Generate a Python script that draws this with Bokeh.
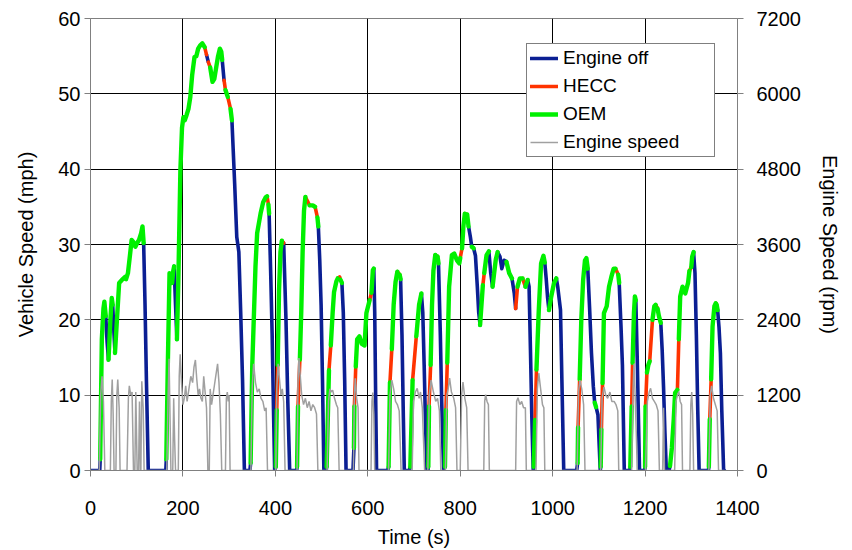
from bokeh.plotting import figure
from bokeh.models import Range1d, LinearAxis, FixedTicker, Legend, LegendItem
from bokeh.embed import file_html
from bokeh.resources import INLINE

# ---------------- data ----------------
# vehicle speed trace: time (s), speed (mph), and operating mode of the
# segment that starts at each point: O = engine off, H = HECC, E = OEM
time_s = [0, 20, 21, 24.5, 28, 30, 33, 36, 39, 43, 46, 48, 51, 53, 57, 62, 68, 75, 77, 81,
          86, 89, 93, 97, 101, 105, 109.6, 112.5, 115, 118, 121, 125, 163, 164, 167, 171, 174, 176.5, 179, 181,
          184, 187, 190, 194.5, 198, 201, 204, 208, 212, 216, 220, 225, 229, 233, 237, 242, 247, 251, 255, 259,
          264, 268, 272, 276, 280, 283, 285, 289, 292, 297, 303, 306, 312, 316.5, 321, 325, 329, 333, 345, 346.5,
          350, 357, 360.6, 368, 373.6, 379.4, 382, 385, 386.5, 390, 393, 396, 398.5, 401, 403, 405, 408, 411, 414, 418,
          423, 427, 431, 446, 447, 449, 453, 456, 459, 462, 465, 470, 474, 481, 486, 491, 493, 496, 499, 502,
          505, 510, 511, 516, 520, 524, 527, 532, 535, 539, 541, 544, 547, 550, 553, 568, 570, 571, 574, 577,
          582, 587, 593, 597, 604, 608, 611, 613, 615, 617, 619, 643, 645, 648, 652, 656, 660, 664, 669, 671,
          674, 677, 679, 690, 692, 697, 705, 711, 716, 719, 722, 725, 728, 730, 731, 732.5, 736, 739, 742, 746,
          751, 753, 757, 760, 764, 767, 769, 772, 776, 782, 787, 793, 798, 800, 804, 807, 810, 815, 818, 822,
          825, 829, 833, 837, 840, 843, 846, 849, 852, 857, 862, 866, 870, 873, 877, 881, 886, 890, 895, 900,
          906, 912, 917, 920, 924, 929, 935, 941, 946, 949, 952, 955, 958, 959, 962, 965, 970, 975, 980, 983,
          986, 989, 992, 997, 1003, 1008, 1011, 1017, 1020, 1024, 1052, 1054, 1055, 1058.5, 1062, 1066, 1070, 1073, 1076, 1080,
          1084, 1088, 1091, 1094, 1098, 1101, 1103, 1104, 1105.5, 1108, 1111, 1117, 1122, 1127, 1132, 1136, 1142, 1144, 1148, 1151,
          1155, 1167, 1168, 1171, 1173, 1176, 1178, 1180, 1183, 1186, 1188, 1199, 1200, 1201, 1204, 1207, 1210, 1216, 1220, 1223,
          1227, 1230, 1234, 1237, 1240, 1243, 1246, 1252, 1254, 1258, 1262, 1265, 1270, 1273, 1276, 1281, 1287, 1293, 1296, 1300,
          1302, 1305, 1308, 1311, 1314, 1317, 1337, 1338, 1340, 1343, 1346, 1350, 1353, 1355, 1357, 1360, 1363, 1366, 1370, 1372]
speed_mph = [0, 0, 1.5, 17.4, 21.5, 22.4, 20.5, 17, 14.7, 20, 22.9, 22, 18, 15.6, 19.8, 24.9, 25.3, 25.7, 25.4, 26.2,
             28.9, 30.6, 30.3, 29.7, 30.2, 30.6, 31.5, 32.4, 30.2, 22, 12, 0, 0, 1.5, 13, 26.2, 25.5, 24.9, 26.5, 27.1,
             22, 17.4, 25, 39.9, 45.5, 46.9, 46.5, 47.2, 48, 49.6, 52.5, 54.9, 55, 56, 56.4, 56.7, 56.2, 55.2, 54.2, 53.5,
             51.6, 52, 53.5, 55, 56, 55.6, 54.5, 51.8, 50.5, 49.6, 48, 46.5, 38, 31, 29, 21, 12, 0, 0, 1,
             13.8, 27.1, 31.5, 34.1, 35.6, 36.3, 36.4, 35.3, 34.1, 26, 18.2, 8, 0, 0.5, 8, 14, 24, 29, 30.5, 30.2,
             20, 9, 0, 0, 0.5, 8.5, 14.7, 21, 29, 34.5, 36.3, 35.7, 35.2, 35.2, 35, 33.6, 32.4, 28, 22, 12,
             0, 0, 0.5, 13.3, 16.6, 21, 23.7, 25.1, 25.5, 25.7, 25.3, 24.9, 21, 12, 0, 0, 3, 8.5, 13.8, 17.4,
             17.8, 16.8, 16.6, 20.9, 22.6, 23.6, 26.6, 26.8, 21, 10, 0, 0, 0.5, 11.7, 16.1, 22, 25, 26.4, 26, 25.4,
             18, 7, 0, 0, 0.5, 12, 17.8, 22, 23.5, 21, 14, 6, 0, 0, 0.5, 8.5, 14, 22, 26.5, 28.6,
             28.4, 27.5, 18, 9, 0, 0.5, 8, 14.3, 24.4, 28.6, 28.8, 27.9, 27.5, 28.2, 29.5, 32.5, 34.1, 34, 32.4, 31,
             29.7, 29.5, 28.5, 24.4, 21, 19.3, 22, 24.6, 26.2, 28.6, 29.1, 26.2, 24.4, 26, 28, 29, 28.4, 26.8, 27.9, 27.7,
             26.2, 25.5, 23.5, 21.5, 24.4, 25.5, 25.5, 24.4, 25.3, 24.4, 16, 7, 0, 0.5, 6.7, 13.4, 21.3, 27.5, 28.5, 27.6,
             25.5, 23, 21.3, 23.1, 24.9, 25.5, 24.4, 21.3, 12, 0, 0, 1, 5.7, 12.1, 20, 25.3, 27.9, 28.2, 26.8, 21.5,
             15.6, 11.2, 9, 8.4, 7.4, 3, 0, 0.5, 5.4, 11.6, 20.9, 21.8, 24.4, 25.7, 26.8, 26.8, 26, 24.9, 19, 14,
             0, 0, 0.5, 8.5, 14.3, 21, 23.1, 22.6, 15, 6, 0, 0, 0.5, 8.5, 13, 14, 14.5, 20, 21.8, 22,
             21.5, 20.5, 19.6, 16, 11, 5, 0, 0, 0.6, 3, 6.8, 10.3, 10.7, 17.4, 23.1, 24.4, 23.5, 24.9, 26.5, 27,
             28.4, 29, 26.2, 18, 8, 0, 0, 0.5, 6.8, 12.1, 19.1, 21.8, 22.2, 22, 21.3, 19, 15.6, 8, 0, 0]
mode = ["O", "O", "E", "E", "E", "E", "O", "O", "E", "E", "E", "O", "O", "E", "E", "E", "E", "O", "E", "E",
        "E", "E", "E", "E", "E", "E", "E", "E", "O", "O", "O", "O", "O", "E", "E", "E", "E", "E", "E", "O",
        "O", "E", "E", "E", "E", "E", "E", "E", "E", "E", "E", "E", "E", "E", "E", "E", "H", "O", "H", "E",
        "E", "E", "E", "E", "E", "E", "O", "H", "E", "H", "E", "O", "O", "O", "O", "O", "O", "O", "O", "E",
        "E", "E", "E", "E", "E", "E", "H", "E", "O", "O", "O", "O", "O", "E", "H", "E", "E", "E", "H", "O",
        "O", "O", "O", "O", "E", "H", "E", "E", "E", "E", "H", "H", "E", "E", "H", "E", "O", "O", "O", "O",
        "O", "O", "E", "H", "E", "E", "E", "E", "H", "H", "E", "O", "O", "O", "O", "O", "E", "H", "E", "E",
        "E", "E", "E", "E", "H", "E", "E", "O", "O", "O", "O", "O", "E", "H", "E", "E", "E", "H", "E", "O",
        "O", "O", "O", "O", "E", "H", "E", "E", "O", "O", "O", "O", "O", "O", "E", "H", "E", "E", "E", "H",
        "E", "O", "O", "O", "O", "E", "H", "E", "E", "E", "E", "E", "E", "H", "E", "E", "H", "E", "O", "O",
        "E", "O", "O", "O", "O", "E", "E", "H", "E", "E", "O", "O", "E", "E", "E", "O", "O", "O", "O", "E",
        "E", "O", "O", "H", "E", "E", "H", "E", "O", "O", "O", "O", "O", "E", "H", "E", "E", "E", "E", "O",
        "O", "O", "E", "E", "E", "O", "O", "O", "O", "O", "O", "E", "H", "E", "E", "E", "E", "E", "O", "O",
        "O", "O", "E", "O", "O", "O", "O", "E", "H", "E", "E", "E", "E", "E", "E", "H", "E", "O", "O", "O",
        "O", "O", "E", "H", "E", "E", "E", "O", "O", "O", "O", "O", "E", "H", "E", "E", "H", "E", "E", "H",
        "E", "E", "O", "O", "O", "O", "O", "O", "E", "E", "E", "E", "H", "E", "E", "E", "E", "E", "H", "E",
        "E", "O", "O", "O", "O", "O", "O", "E", "H", "E", "E", "E", "H", "E", "O", "O", "O", "O", "O", "O"]

# engine speed trace (right axis): time (s), rpm
rpm_time_s = [0, 19, 22, 25, 28, 31, 43, 45, 47, 49, 51, 55, 57, 59, 62, 64, 79, 82, 84, 87, 90, 93,
              96, 98, 101, 104, 106, 108, 109, 111, 114, 116, 165, 168, 170, 172, 174, 178, 180, 182, 184,
              190, 192, 194, 197, 200, 203, 206, 209, 213, 217, 221, 224, 227, 230, 233, 236, 239, 242, 245,
              248, 251, 254, 257, 259, 262, 265, 268, 272, 275, 278, 281, 284, 292, 294, 296, 298, 300, 302,
              347, 350, 353, 357, 361, 365, 369, 373, 377, 380, 383, 401, 403, 406, 409, 412, 415, 418, 421,
              447, 449, 451, 454, 457, 461, 465, 469, 473, 477, 481, 485, 489, 492, 512, 515, 518, 521, 524,
              528, 532, 535, 538, 569, 571, 573, 576, 579, 581, 607, 609, 611, 613, 615, 645, 648, 652, 656,
              660, 664, 668, 672, 696, 699, 703, 707, 711, 714, 718, 723, 730, 733, 737, 742, 747, 751, 755,
              758, 768, 771, 774, 777, 781, 786, 790, 793, 800, 803, 806, 810, 814, 817, 851, 853, 855, 858,
              861, 863, 920, 922, 925, 929, 933, 937, 941, 943, 964, 967, 970, 974, 978, 981, 983, 1053, 1056,
              1059, 1063, 1067, 1070, 1104, 1107, 1111, 1115, 1119, 1124, 1128, 1133, 1137, 1141, 1143, 1171,
              1174, 1176, 1178, 1181, 1183, 1201, 1205, 1209, 1212, 1216, 1220, 1224, 1228, 1231, 1238, 1240,
              1242, 1264, 1267, 1270, 1273, 1276, 1279, 1281, 1297, 1299, 1301, 1303, 1305, 1338, 1341, 1344,
              1348, 1352, 1356, 1359, 1372]
engine_rpm = [0, 0, 1200, 1500, 1100, 0, 0, 1100, 1450, 900, 0, 0, 1200, 1450, 1000, 0, 0, 1150, 1350, 1200, 1250, 0,
              0, 1250, 0, 0, 1100, 0, 0, 1420, 1000, 0, 0, 1200, 1780, 900, 0, 0, 1150, 500, 0,
              0, 1500, 1850, 1400, 1050, 1150, 1350, 1100, 1300, 1500, 1400, 1650, 1760, 1450, 1200, 1300, 1150, 1100, 1500,
              1250, 1000, 0, 0, 1300, 1050, 1200, 1350, 1550, 1700, 1400, 900, 0, 0, 1150, 1250, 1100, 1200, 0,
              0, 1350, 1700, 1400, 1250, 1300, 1150, 1100, 950, 1000, 0, 0, 1300, 1700, 1450, 1200, 1300, 1100, 0,
              0, 1400, 1790, 1500, 1200, 1050, 1150, 1000, 1100, 950, 1050, 1000, 900, 0, 0, 1100, 1300, 1250, 1280,
              1150, 1050, 1000, 0, 0, 1200, 1470, 1150, 1000, 0, 0, 1100, 1240, 900, 0, 0, 1200, 1440, 1300,
              1100, 1050, 950, 0, 0, 1100, 1250, 1310, 1150, 1250, 1000, 0, 0, 1200, 1440, 1250, 1100, 1150, 950,
              0, 0, 1200, 1300, 1470, 1250, 1150, 1000, 0, 0, 1200, 1410, 1150, 1000, 0, 0, 1100, 1210, 1100,
              1050, 0, 0, 1100, 1160, 1050, 1100, 1000, 1000, 0, 0, 1300, 1550, 1300, 1050, 1000, 0, 0, 1250,
              1440, 1300, 1050, 0, 0, 1150, 1330, 1200, 1150, 1250, 1100, 1100, 1050, 950, 0, 0,
              1300, 1700, 1300, 600, 0, 0, 1100, 1250, 1310, 1150, 1100, 1050, 950, 0, 0, 1000,
              0, 0, 1100, 1200, 1260, 1100, 1050, 0, 0, 1050, 1250, 900, 0, 0, 1200, 1350,
              1150, 1050, 950, 0, 0]

x_ticks = [0, 200, 400, 600, 800, 1000, 1200, 1400]
speed_ticks = [0, 10, 20, 30, 40, 50, 60]
rpm_ticks = [0, 1200, 2400, 3600, 4800, 6000, 7200]

series = [("O", "Engine off", "#0B1F93", 3.6),
          ("H", "HECC", "#FF3300", 3.6),
          ("E", "OEM", "#00F000", 4.4)]

FONT = "Liberation Sans"

p = figure(width=852, height=550, output_backend="svg", toolbar_location=None,
           x_range=Range1d(0, 1400), y_range=Range1d(0, 60),
           min_border_left=90, min_border_right=115, min_border_top=18, min_border_bottom=79)
p.extra_y_ranges = {"rpm": Range1d(0, 7200)}
p.background_fill_color = "white"
p.border_fill_color = "white"
p.outline_line_color = "#808080"
p.outline_line_width = 1

# grid
p.xgrid.ticker = FixedTicker(ticks=x_ticks[1:-1])
p.ygrid.ticker = FixedTicker(ticks=speed_ticks[1:-1])
for g in (p.xgrid, p.ygrid):
    g.grid_line_color = "black"
    g.grid_line_width = 1

# runs of equal mode
runs = {k: ([], []) for k, _, _, _ in series}
start = 0
n = len(time_s)
for i in range(1, n):
    if mode[i] != mode[start] or i == n - 1:
        m = mode[start]
        runs[m][0].append(time_s[start:i + 1])
        runs[m][1].append(speed_mph[start:i + 1])
        start = i

items = []
for key, label, color, width in series:
    r = p.multi_line(runs[key][0], runs[key][1], line_color=color, line_width=width,
                     line_cap="round", line_join="round")
    items.append(LegendItem(label=label, renderers=[r]))

rg = p.line(rpm_time_s, engine_rpm, y_range_name="rpm", line_color="#A0A0A0", line_width=1.5)
items.append(LegendItem(label="Engine speed", renderers=[rg]))

# axes
right = LinearAxis(y_range_name="rpm", ticker=FixedTicker(ticks=rpm_ticks), axis_label="Engine Speed (rpm)")
p.add_layout(right, "right")
p.xaxis.ticker = FixedTicker(ticks=x_ticks)
p.yaxis[0].ticker = FixedTicker(ticks=speed_ticks)
p.xaxis.axis_label = "Time (s)"
p.yaxis[0].axis_label = "Vehicle Speed (mph)"

for ax in [p.xaxis[0], p.yaxis[0], right]:
    ax.axis_line_color = "#808080"
    ax.major_tick_line_color = "#808080"
    ax.major_tick_out = 6
    ax.major_tick_in = 0
    ax.minor_tick_line_color = None
    ax.major_label_text_font = FONT
    ax.major_label_text_font_size = "20px"
    ax.major_label_text_color = "black"
    ax.axis_label_text_font = FONT
    ax.axis_label_text_font_size = "20px"
    ax.axis_label_text_font_style = "normal"
    ax.axis_label_text_color = "black"

p.xaxis.major_label_standoff = 24
p.xaxis.axis_label_standoff = 8
p.yaxis[0].major_label_standoff = 4
p.yaxis[0].axis_label_standoff = 18
right.major_label_standoff = 13
right.axis_label_standoff = 15

legend = Legend(items=items, location=(436, 313), padding=3, spacing=6, margin=0,
                glyph_width=28, glyph_height=20, label_height=20, label_standoff=5, label_width=148,
                label_text_font=FONT, label_text_font_size="19px", label_text_color="black",
                border_line_color="black", border_line_width=1,
                background_fill_color="white", background_fill_alpha=1)
p.add_layout(legend)

open("out.html", "w").write(file_html(p, INLINE))
